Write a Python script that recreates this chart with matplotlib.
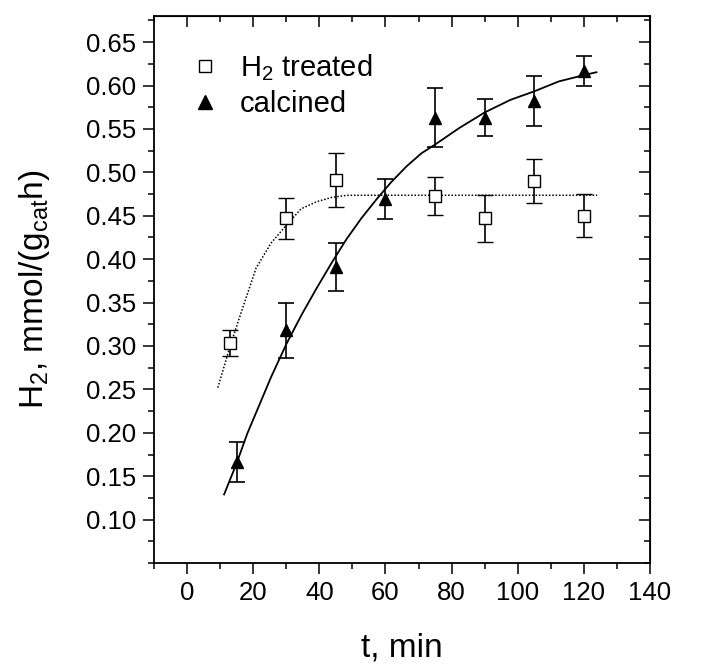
import matplotlib
matplotlib.use("Agg")
import matplotlib.pyplot as plt
from matplotlib.ticker import MultipleLocator
from matplotlib.lines import Line2D

plt.rcParams['font.family'] = ['Liberation Sans', 'DejaVu Sans']
plt.rcParams['mathtext.fontset'] = 'custom'
plt.rcParams['mathtext.rm'] = 'Liberation Sans'
plt.rcParams['mathtext.it'] = 'Liberation Sans:italic'

# measured points
t_h2 = [13, 30, 45, 75, 90, 105, 120]
y_h2 = [0.303, 0.447, 0.491, 0.473, 0.447, 0.490, 0.450]
err_h2 = [0.015, 0.024, 0.031, 0.022, 0.027, 0.025, 0.025]

t_calc = [15, 30, 45, 60, 75, 90, 105, 120]
y_calc = [0.166, 0.318, 0.391, 0.469, 0.563, 0.563, 0.582, 0.617]
err_calc = [0.023, 0.032, 0.028, 0.023, 0.034, 0.021, 0.029, 0.017]

# fitted curves
fit_h2_t = [9.3, 13.2, 16.4, 20.9, 25.5, 30, 34.5, 39.1, 43.6, 48.2, 55, 124]
fit_h2_y = [0.252, 0.302, 0.339, 0.390, 0.419, 0.439, 0.458, 0.466, 0.471, 0.4735, 0.4736, 0.4736]

fit_calc_t = [11.2, 15, 18.2, 25.5, 30, 34.5, 39.1, 43.6, 48.2, 52.7, 57.3, 61.8,
              66.4, 70.9, 75, 82.3, 90, 97.8, 105, 112.4, 120, 123.8]
fit_calc_y = [0.129, 0.165, 0.199, 0.265, 0.302, 0.335, 0.366, 0.395, 0.423, 0.447,
              0.469, 0.489, 0.507, 0.522, 0.532, 0.551, 0.569, 0.5835, 0.5933, 0.6047,
              0.612, 0.6153]

xticks = [0, 20, 40, 60, 80, 100, 120, 140]
yticks = [0.10, 0.15, 0.20, 0.25, 0.30, 0.35, 0.40, 0.45, 0.50, 0.55, 0.60, 0.65]

fig = plt.figure(figsize=(7.25, 6.69), dpi=100)
ax = fig.add_axes([0.2124, 0.1584, 0.6842, 0.8176])

ax.plot(fit_h2_t, fit_h2_y, color='black', linestyle=(0, (1, 1.2)), lw=1.1)
ax.plot(fit_calc_t, fit_calc_y, color='black', lw=1.3)

ax.errorbar(t_h2, y_h2, yerr=err_h2, fmt='s', color='black', mfc='white', mec='black',
            ms=8, mew=1.0, ecolor='black', elinewidth=1.2, capsize=6, capthick=1.2, zorder=3)
ax.errorbar(t_calc, y_calc, yerr=err_calc, fmt='^', color='black', mfc='black', mec='black',
            ms=9, ecolor='black', elinewidth=1.2, capsize=6, capthick=1.2, zorder=3)

ax.set_xlim(-10, 140)
ax.set_ylim(0.05, 0.68)
ax.set_xticks(xticks)
ax.xaxis.set_minor_locator(MultipleLocator(10))
ax.set_yticks(yticks)
ax.yaxis.set_minor_locator(MultipleLocator(0.025))

ax.tick_params(which='major', direction='out', length=8, width=1.1, labelsize=18.5, pad=5)
ax.tick_params(which='minor', direction='out', length=4, width=1.1)
for s in ax.spines.values():
    s.set_linewidth(1.3)

# inward ticks on top and right
top = ax.secondary_xaxis('top')
top.set_xticks(xticks)
top.xaxis.set_minor_locator(MultipleLocator(10))
top.tick_params(which='major', direction='in', length=8, width=1.1, labeltop=False)
top.tick_params(which='minor', direction='in', length=4, width=1.1)
right = ax.secondary_yaxis('right')
right.set_yticks(yticks)
right.yaxis.set_minor_locator(MultipleLocator(0.025))
right.tick_params(which='major', direction='in', length=8, width=1.1, labelright=False)
right.tick_params(which='minor', direction='in', length=4, width=1.1)

ax.set_xlabel('t, min', fontsize=24, labelpad=20)
ax.set_ylabel(r'H$_\mathregular{2}$, mmol/(g$_\mathregular{cat}$h)', fontsize=24, labelpad=24)

handles = [Line2D([], [], ls='none', marker='s', ms=9, mfc='white', mec='black', mew=1.0),
           Line2D([], [], ls='none', marker='^', ms=10, mfc='black', mec='black')]
ax.legend(handles, [r'H$_\mathregular{2}$ treated', 'calcined'], loc='upper left',
          bbox_to_anchor=(0.05, 0.955), frameon=False, fontsize=21,
          handletextpad=0.7, handlelength=1.0, labelspacing=0.25, borderaxespad=0)

fig.savefig('out.png', dpi=100)
